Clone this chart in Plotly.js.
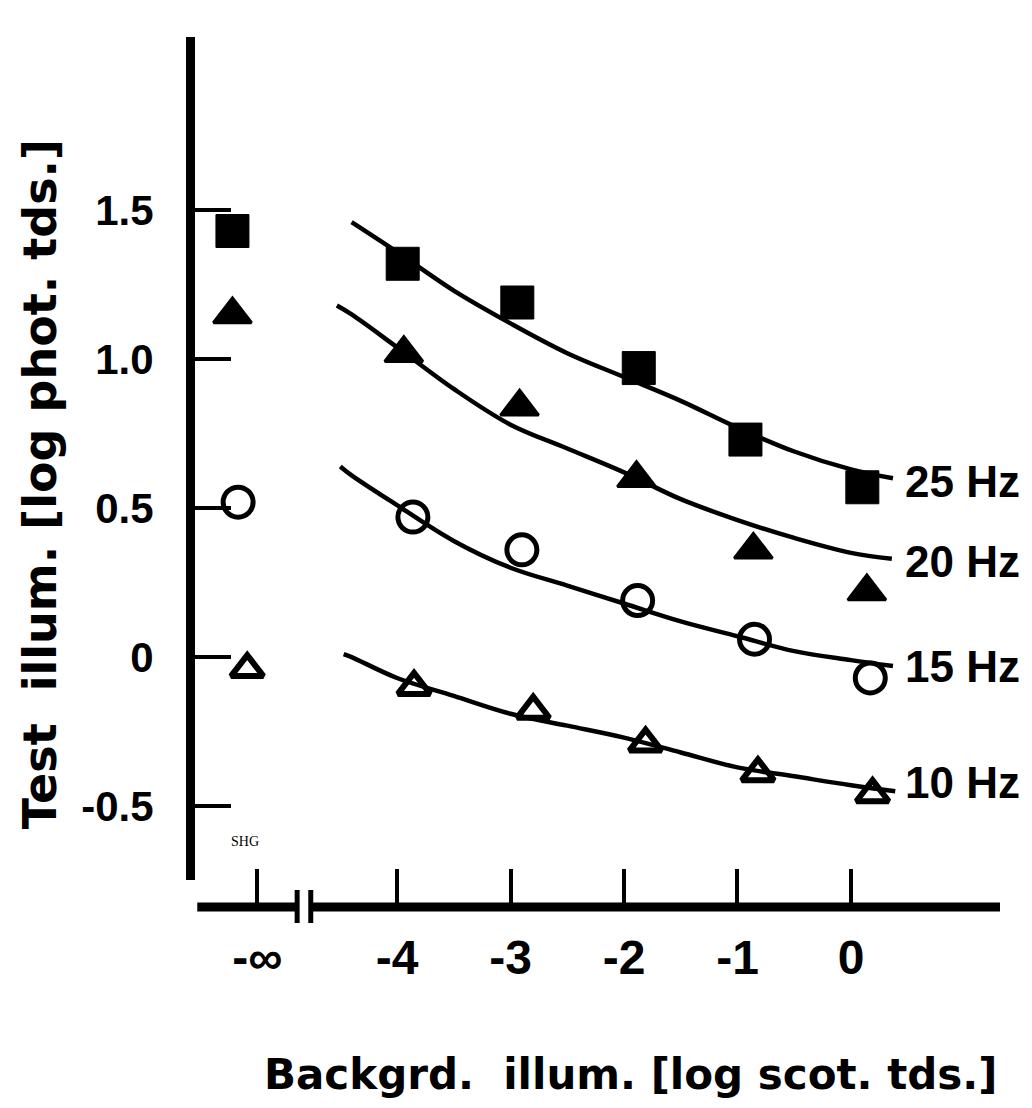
<!DOCTYPE html>
<html>
<head>
<meta charset="utf-8">
<script src="https://cdn.plot.ly/plotly-3.0.1.min.js"></script>
<style>
  html, body { margin: 0; padding: 0; background: #ffffff; }
  #chart { width: 1032px; height: 1108px; }
</style>
</head>
<body>
<div id="chart"></div>
<script>
// ---- data ----
const xTickVals = [-5.23, -4, -3, -2, -1, 0];
const xTickText = ['-\u221E', '-4', '-3', '-2', '-1', '0'];
const yTickVals = [-0.5, 0, 0.5, 1.0, 1.5];
const yTickText = ['-0.5', '0', '0.5', '1.0', '1.5'];
const xTitle = 'Backgrd.  illum. [log scot. tds.]';
const yTitle = 'Test  illum. [log phot. tds.]';

// measured points (first point of each series is the "-infinity" background)
const hz25X = [-5.45, -3.95, -2.94, -1.87, -0.93, 0.10];
const hz25Y = [1.43, 1.32, 1.19, 0.97, 0.73, 0.57];
const hz20X = [-5.45, -3.94, -2.92, -1.89, -0.86, 0.14];
const hz20Y = [1.15, 1.02, 0.84, 0.60, 0.36, 0.22];
const hz15X = [-5.40, -3.86, -2.90, -1.88, -0.85, 0.17];
const hz15Y = [0.52, 0.47, 0.36, 0.19, 0.06, -0.07];
const hz10X = [-5.32, -3.85, -2.80, -1.81, -0.82, 0.19];
const hz10Y = [-0.04, -0.10, -0.18, -0.29, -0.39, -0.46];

// drawn curves
const fit25X = [-4.4, -4.0, -3.5, -3.0, -2.5, -2.0, -1.5, -1.0, -0.5, 0, 0.37];
const fit25Y = [1.46, 1.36, 1.23, 1.12, 1.02, 0.94, 0.86, 0.77, 0.69, 0.63, 0.60];
const fit20X = [-4.53, -4.4, -4.0, -3.5, -3.0, -2.5, -2.0, -1.5, -1.0, -0.5, 0, 0.36];
const fit20Y = [1.18, 1.15, 1.04, 0.90, 0.78, 0.70, 0.62, 0.53, 0.46, 0.40, 0.35, 0.33];
const fit15X = [-4.5, -4.4, -4.0, -3.5, -3.0, -2.5, -2.0, -1.5, -1.0, -0.5, 0, 0.37];
const fit15Y = [0.64, 0.61, 0.51, 0.39, 0.30, 0.24, 0.18, 0.12, 0.07, 0.02, -0.01, -0.03];
const fit10X = [-4.47, -4.4, -4.0, -3.5, -3.0, -2.5, -2.0, -1.5, -1.0, -0.5, 0, 0.39];
const fit10Y = [0.01, 0.00, -0.07, -0.13, -0.19, -0.23, -0.27, -0.32, -0.37, -0.40, -0.43, -0.45];

const seriesLabels = ['25 Hz', '20 Hz', '15 Hz', '10 Hz'];
const seriesLabelY = [0.59, 0.32, -0.03, -0.42];
const seriesLabelX = 0.46;

// ---- styling ----
const INK = '#000000';
const SANS = 'Liberation Sans, Arial, Helvetica, sans-serif';
const TITLE_SANS = 'DejaVu Sans, Liberation Sans, Arial, sans-serif';
const X_RANGE = [-5.78, 1.313];
const Y_RANGE = [-0.748, 2.081];
const AXIS_BREAK = [-4.88, -4.76];

function fitTrace(x, y) {
  return { x: x, y: y, type: 'scatter', mode: 'lines',
    line: { color: INK, width: 4.5, shape: 'spline', smoothing: 1 },
    hoverinfo: 'skip', showlegend: false };
}
function markTrace(x, y, symbol, size, lw, name) {
  return { x: x, y: y, type: 'scatter', mode: 'markers', name: name,
    marker: { symbol: symbol, size: size, color: INK,
      line: { color: INK, width: lw } },
    cliponaxis: false, showlegend: false };
}

const data = [
  fitTrace(fit25X, fit25Y),
  fitTrace(fit20X, fit20Y),
  fitTrace(fit15X, fit15Y),
  fitTrace(fit10X, fit10Y),
  markTrace(hz25X, hz25Y, 'square', 33, 1, '25 Hz'),
  markTrace(hz20X, hz20Y, 'triangle-up', 33, 3, '20 Hz'),
  markTrace(hz15X, hz15Y, 'circle-open', 30, 5, '15 Hz'),
  markTrace(hz10X, hz10Y, 'triangle-up-open', 28, 6, '10 Hz')
];

const annotations = seriesLabels.map((t, i) => ({
  x: seriesLabelX, y: seriesLabelY[i], xref: 'x', yref: 'y',
  text: t, showarrow: false, xanchor: 'left', yanchor: 'middle',
  font: { family: SANS, size: 44, color: INK, weight: 'bold' }
}));
annotations.push({
  x: -5.34, y: -0.62, xref: 'x', yref: 'y', text: 'SHG', showarrow: false,
  xanchor: 'center', yanchor: 'middle',
  font: { family: 'Liberation Serif, Times New Roman, serif', size: 14, color: INK }
});
// axis titles, placed where the figure has them
annotations.push({
  x: 0.5416, y: -0.193, xref: 'paper', yref: 'paper', text: xTitle, showarrow: false,
  xanchor: 'center', yanchor: 'middle',
  font: { family: TITLE_SANS, size: 42, color: INK, weight: 'bold' }
});
annotations.push({
  x: -0.1925, y: 0.486, xref: 'paper', yref: 'paper', text: yTitle, showarrow: false,
  textangle: -90, xanchor: 'center', yanchor: 'middle',
  font: { family: TITLE_SANS, size: 46, color: INK, weight: 'bold' }
});

const shapes = [
  { type: 'line', xref: 'x', yref: 'paper', x0: X_RANGE[0] + 0.02, x1: AXIS_BREAK[0], y0: 0, y1: 0,
    line: { color: INK, width: 9 } },
  { type: 'line', xref: 'x', yref: 'paper', x0: AXIS_BREAK[1], x1: X_RANGE[1], y0: 0, y1: 0,
    line: { color: INK, width: 9 } },
  { type: 'line', xref: 'x', yref: 'paper', ysizemode: 'pixel', yanchor: 0,
    x0: AXIS_BREAK[0], x1: AXIS_BREAK[0], y0: -16, y1: 17, line: { color: INK, width: 5 } },
  { type: 'line', xref: 'x', yref: 'paper', ysizemode: 'pixel', yanchor: 0,
    x0: AXIS_BREAK[1], x1: AXIS_BREAK[1], y0: -16, y1: 17, line: { color: INK, width: 5 } }
];

const layout = {
  width: 1032, height: 1108,
  margin: { l: 195, r: 32, t: 37, b: 201 },
  paper_bgcolor: '#ffffff', plot_bgcolor: '#ffffff',
  showlegend: false,
  xaxis: {
    range: X_RANGE, anchor: 'free', position: 0,
    showline: false, showgrid: false, zeroline: false,
    ticks: 'inside', ticklen: 38, tickwidth: 4, tickcolor: INK,
    tickmode: 'array', tickvals: xTickVals, ticktext: xTickText,
    ticklabelstandoff: 18,
    tickfont: { family: SANS, size: 48, color: INK, weight: 'bold' }
  },
  yaxis: {
    range: Y_RANGE, domain: [0.031, 1],
    showline: true, linewidth: 9, linecolor: INK,
    showgrid: false, zeroline: false,
    ticks: 'inside', ticklen: 36, tickwidth: 4, tickcolor: INK,
    tickmode: 'array', tickvals: yTickVals, ticktext: yTickText,
    ticklabelstandoff: 24,
    tickfont: { family: SANS, size: 42, color: INK, weight: 'bold' }
  },
  annotations: annotations,
  shapes: shapes
};

Plotly.newPlot('chart', data, layout, { staticPlot: true, displayModeBar: false });
</script>
</body>
</html>
